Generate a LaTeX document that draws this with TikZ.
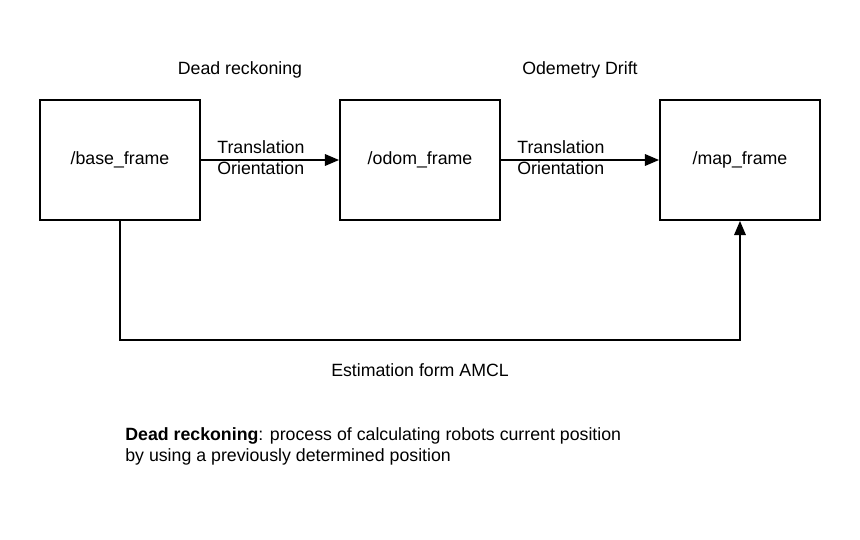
\documentclass[tikz,border=0pt]{standalone}
\usepackage{fontspec}
\setmainfont{Liberation Sans}
\usetikzlibrary{arrows.meta}
\tikzset{
  frame/.style={draw, line width=1.1pt, minimum width=3.2cm, minimum height=2.4cm, inner sep=0pt},
  link/.style={line width=1.1pt, -{Triangle[length=8pt,width=6.5pt]}},
  lbl/.style={inner sep=0pt, align=left}
}
\begin{document}
\begin{tikzpicture}[x=0.02cm, y=-0.02cm, font=\fontsize{10.1pt}{12pt}\selectfont]
\useasboundingbox (0,0) rectangle (860,540);
% frames
\node[frame] (base) at (120,160) {/base\_frame};
\node[frame] (odom) at (420,160) {/odom\_frame};
\node[frame] (map) at (740,160) {/map\_frame};
% titles
\node[lbl] (dead) at (240,70) {Dead reckoning};
\node[lbl] (drift) at (580,70) {Odemetry Drift};
% links
\draw[link] (base.east) -- (odom.west);
\draw[link] (odom.east) -- (map.west);
\node[lbl, anchor=west] (tr1) at (217,158) {Translation\\Orientation};
\node[lbl, anchor=west] (tr2) at (517,158) {Translation\\Orientation};
\coordinate (corner) at (120,340);
\draw[link] (base.south) -- (corner) -| (map.south);
\node[lbl] (amcl) at (420,370) {Estimation form AMCL};
% note
\node[lbl, anchor=west] (note) at (125,446) {\textbf{Dead reckoning}: process of calculating robots current position\\by using a previously determined position};
\end{tikzpicture}
\end{document}
